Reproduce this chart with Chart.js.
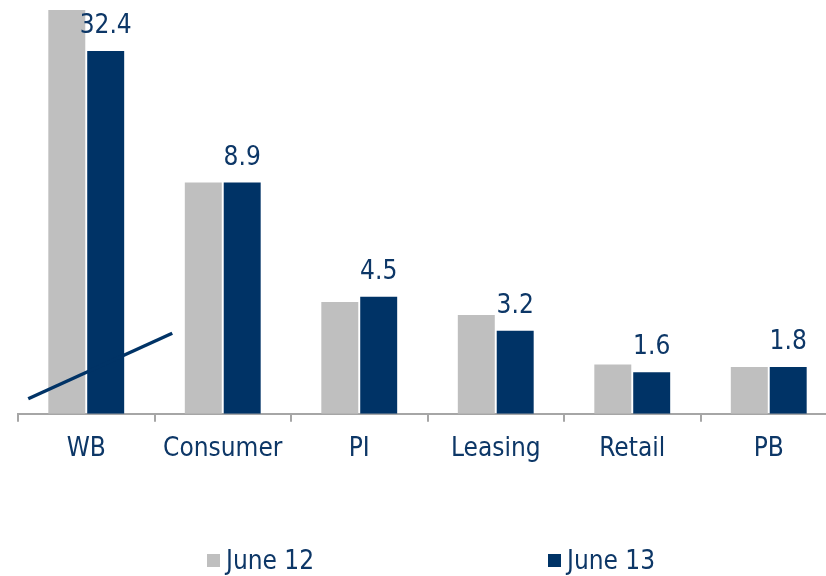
<!DOCTYPE html>
<html>
<head>
<meta charset="utf-8">
<script src="https://cdn.jsdelivr.net/npm/chart.js@4"></script>
<style>
  html, body { margin: 0; padding: 0; background: #fff; overflow: hidden; }
  #wrap { width: 840px; height: 576px; position: relative; }
</style>
</head>
<body>
<div id="wrap"><canvas id="chart"></canvas></div>
<script>
// Data
const categories = ["WB", "Consumer", "PI", "Leasing", "Retail", "PB"];
const seriesNames = ["June 12", "June 13"];
const june12 = [42, 8.9, 4.3, 3.8, 1.9, 1.8]; // WB June 12 runs off the top of the chart
const june13 = [32.4, 8.9, 4.5, 3.2, 1.6, 1.8];

const NAVY = "#003366";
const GREY = "#bfbfbf";
const TEXT = "#0d3767";
const FONT = "'DejaVu Sans Condensed', 'DejaVu Sans', sans-serif";

// broken value axis: linear up to BREAK_AT, compressed above it
const BREAK_AT = 10;
const COMPRESS = 0.177;
const fold = v => (v <= BREAK_AT ? v : BREAK_AT + (v - BREAK_AT) * COMPRESS);
const unfold = v => (v <= BREAK_AT ? v : BREAK_AT + (v - BREAK_AT) / COMPRESS);

class BrokenScale extends Chart.LinearScale {
  getPixelForValue(value) { return super.getPixelForValue(fold(value)); }
  getValueForPixel(pixel) { return unfold(super.getValueForPixel(pixel)); }
}
BrokenScale.id = "broken";
BrokenScale.defaults = Chart.LinearScale.defaults;
Chart.register(BrokenScale);

Chart.defaults.font.family = FONT;

// value labels above June 13 bars
const valueLabels = {
  id: "valueLabels",
  afterDatasetsDraw(chart) {
    const ctx = chart.ctx;
    const meta = chart.getDatasetMeta(1);
    ctx.save();
    ctx.font = "26px " + FONT;
    ctx.fillStyle = TEXT;
    ctx.textAlign = "center";
    ctx.textBaseline = "alphabetic";
    meta.data.forEach((bar, i) => {
      ctx.fillText(june13[i].toFixed(1), bar.x, bar.y - 18);
    });
    ctx.restore();
  }
};

// axis break marker across the WB bars
const breakMark = {
  id: "breakMark",
  afterDatasetsDraw(chart) {
    const ctx = chart.ctx;
    const x = chart.scales.x, y = chart.scales.y;
    const cx = x.getPixelForValue(0);
    ctx.save();
    ctx.strokeStyle = NAVY;
    ctx.lineWidth = 3.5;
    ctx.beginPath();
    ctx.moveTo(cx - 58, y.getPixelForValue(0.58));
    ctx.lineTo(cx + 86, y.getPixelForValue(3.1));
    ctx.stroke();
    ctx.restore();
  }
};

// legend along the bottom
const bottomLegend = {
  id: "bottomLegend",
  afterDraw(chart) {
    const ctx = chart.ctx;
    const yMid = 561;
    ctx.save();
    ctx.font = "26px " + FONT;
    ctx.textBaseline = "middle";
    ctx.textAlign = "left";
    chart.data.datasets.forEach((ds, i) => {
      const x0 = 207 + i * 341;
      ctx.fillStyle = ds.backgroundColor;
      ctx.fillRect(x0, yMid - 7, 13, 13);
      ctx.fillStyle = TEXT;
      ctx.fillText(ds.label, x0 + 19, yMid + 1);
    });
    ctx.restore();
  }
};

new Chart(document.getElementById("chart"), {
  type: "bar",
  data: {
    labels: categories,
    datasets: [
      { label: seriesNames[0], data: june12, backgroundColor: GREY },
      { label: seriesNames[1], data: june13, backgroundColor: NAVY }
    ]
  },
  options: {
    responsive: true,
    maintainAspectRatio: false,
    animation: false,
    categoryPercentage: 0.57,
    barPercentage: 0.95,
    layout: { padding: { left: 18, right: 3, top: 10, bottom: 99 } },
    plugins: {
      legend: { display: false },
      tooltip: { enabled: false }
    },
    scales: {
      x: {
        offset: true,
        grid: {
          display: true,
          drawOnChartArea: false,
          drawTicks: true,
          tickLength: 8,
          color: "#a6a6a6",
          lineWidth: 2,
          offset: true
        },
        border: { display: true, color: "#a6a6a6", width: 2 },
        ticks: { color: TEXT, font: { size: 26 }, padding: 12 }
      },
      y: {
        type: "broken",
        display: false,
        min: 0,
        max: 15.54
      }
    }
  },
  plugins: [valueLabels, breakMark, bottomLegend]
});
</script>
</body>
</html>
